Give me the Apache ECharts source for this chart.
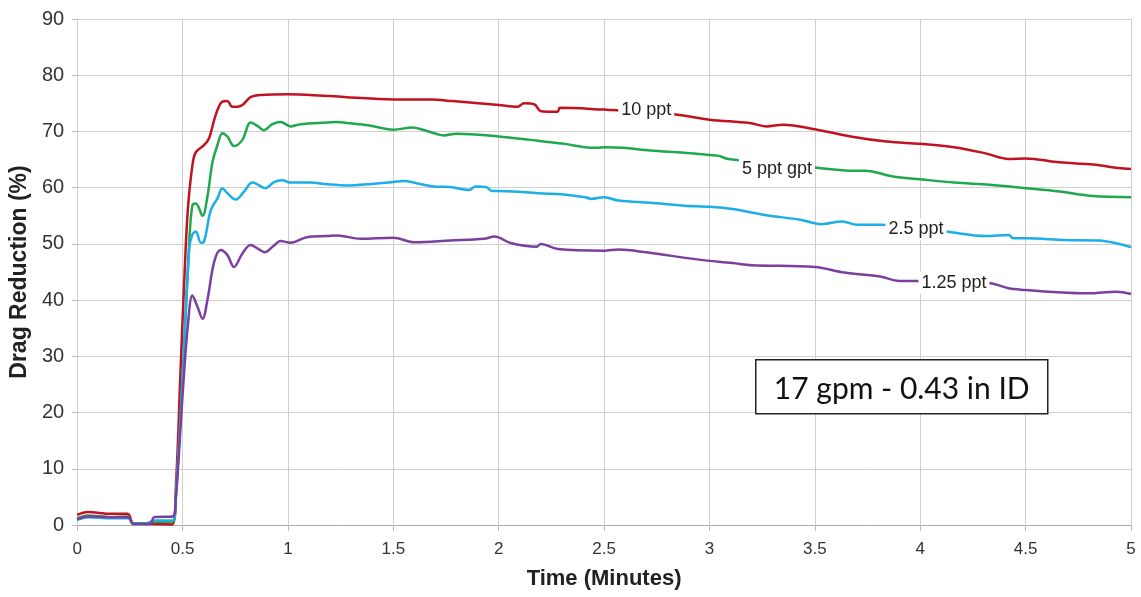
<!DOCTYPE html>
<html><head><meta charset="utf-8">
<script src="https://cdn.jsdelivr.net/npm/echarts@6/dist/echarts.min.js"></script>
<style>html,body{margin:0;padding:0;background:#fff}#c{width:1141px;height:597px}</style>
</head><body><div id="c"></div>
<script>
// Time (minutes) and drag reduction (%) per concentration
const t10 = [0,0.05,0.16,0.24,0.25,0.265,0.33,0.45,0.47,0.49,0.51,0.525,0.547,0.563,0.603,0.626,0.658,0.689,0.713,0.735,0.76,0.784,0.823,0.871,1.0,1.15,1.28,1.5,1.68,1.78,2.0,2.09,2.12,2.17,2.2,2.28,2.29,2.5,2.54,2.84,3.0,3.19,3.27,3.35,3.5,3.67,3.84,4.0,4.16,4.31,4.42,4.5,4.66,4.82,4.94,5.0];
const v10 = [1.8,2.3,2.0,2.0,1.6,0.3,0.2,0.1,8,27,45,56,64,66.3,67.6,68.8,73,75.3,75.4,74.4,74.4,74.7,76.1,76.5,76.6,76.4,76.1,75.7,75.7,75.4,74.7,74.4,75.0,74.8,73.6,73.5,74.2,73.9,73.8,73.0,72.1,71.5,70.9,71.2,70.4,69.1,68.2,67.8,67.2,66.1,65.1,65.2,64.5,64.1,63.5,63.3];

const t5 = [0,0.05,0.16,0.24,0.25,0.265,0.33,0.366,0.453,0.468,0.5,0.532,0.547,0.563,0.595,0.618,0.642,0.666,0.689,0.713,0.744,0.784,0.823,0.855,0.886,0.926,0.965,1.013,1.06,1.186,1.233,1.28,1.38,1.5,1.59,1.64,1.71,1.74,1.8,2.0,2.15,2.31,2.41,2.47,2.5,2.59,2.72,2.88,3.0,3.04,3.09,3.52,3.68,3.74,3.87,4.0,4.16,4.33,4.5,4.66,4.82,5.0];
const v5 = [1.2,1.7,1.4,1.5,1.2,0.3,0.3,0.6,0.6,5,26,50.5,56.9,57.2,55,58.4,64.5,67.6,69.7,69.1,67.4,68.5,71.6,71,70.2,71.3,71.7,70.9,71.3,71.6,71.7,71.5,71.1,70.3,70.7,70.3,69.5,69.3,69.6,69.1,68.5,67.8,67.2,67.1,67.2,67.1,66.6,66.2,65.8,65.7,65.1,63.5,63.0,63.0,62.0,61.5,60.9,60.5,59.9,59.3,58.5,58.3];

const t25 = [0,0.05,0.16,0.24,0.25,0.265,0.33,0.366,0.453,0.468,0.5,0.532,0.547,0.563,0.587,0.603,0.634,0.666,0.689,0.713,0.752,0.792,0.831,0.855,0.894,0.934,0.973,1.013,1.107,1.186,1.28,1.38,1.5,1.55,1.61,1.69,1.77,1.86,1.89,1.94,1.97,2.0,2.25,2.31,2.41,2.44,2.5,2.57,2.72,2.88,3.0,3.11,3.27,3.43,3.53,3.63,3.7,3.81,4.12,4.31,4.42,4.44,4.5,4.69,4.85,4.93,5.0];
const v25 = [0.9,1.4,1.2,1.2,1.0,0.2,0.3,0.8,0.8,5,26,49.2,51.7,52.2,50.2,50.5,56,58.1,59.9,59,57.9,59.3,60.9,60.6,59.9,61,61.3,60.9,60.9,60.6,60.4,60.6,61.0,61.2,60.8,60.2,60.1,59.6,60.2,60.1,59.4,59.4,58.9,58.8,58.3,58.0,58.3,57.7,57.3,56.8,56.6,56.2,55.1,54.3,53.5,54.0,53.4,53.4,52.2,51.4,51.6,51.0,51.0,50.7,50.6,50.1,49.4];

const t125 = [0,0.05,0.16,0.24,0.25,0.265,0.33,0.35,0.366,0.453,0.468,0.5,0.524,0.547,0.571,0.595,0.618,0.65,0.681,0.713,0.744,0.784,0.823,0.855,0.89,0.934,0.965,1.013,1.09,1.186,1.233,1.344,1.5,1.6,1.77,1.93,1.98,2.06,2.18,2.2,2.28,2.5,2.57,2.7,2.95,3.11,3.2,3.5,3.64,3.81,3.9,3.97,4.33,4.42,4.5,4.61,4.8,4.93,5.0];
const v125 = [1.0,1.5,1.4,1.4,1.2,0.2,0.2,0.3,1.4,1.5,4.6,23,35,40.8,38.8,36.7,40,46.8,48.9,48,45.9,48.3,49.8,49.2,48.5,49.7,50.5,50.2,51.2,51.4,51.5,50.9,51.1,50.3,50.6,50.9,51.3,50.1,49.5,50.0,49.1,48.8,49.0,48.5,47.2,46.6,46.2,45.9,44.9,44.2,43.4,43.4,43.0,42.1,41.8,41.5,41.2,41.5,41.1];

const seriesNames = ['10 ppt','5 ppt gpt','2.5 ppt','1.25 ppt'];
const seriesColors = ['#c1121f','#1fa84f','#1caee6','#7b3f9e'];
const labelAt = [[2.70,73.8],[3.32,63.4],[3.98,52.6],[4.16,43.1]];
const xTickLabels = ['0','0.5','1','1.5','2','2.5','3','3.5','4','4.5','5'];

const T = [t10,t5,t25,t125], V = [v10,v5,v25,v125];

const chart = echarts.init(document.getElementById('c'), null, {renderer:'canvas'});
const font = 'Liberation Sans, Arial, sans-serif';
chart.setOption({
  animation:false,
  backgroundColor:'#fff',
  grid:{left:76,right:10,top:19,bottom:72,containLabel:false},
  xAxis:{
    type:'value',min:0,max:5,interval:0.5,
    name:'Time (Minutes)',nameLocation:'middle',nameGap:43,
    nameTextStyle:{fontFamily:font,fontWeight:'bold',fontSize:22,color:'#222'},
    axisLine:{show:true,lineStyle:{color:'#aaa',width:1}},
    axisTick:{show:true,length:6,lineStyle:{color:'#bbb'}},
    axisLabel:{fontFamily:font,fontSize:17,color:'#333',margin:16,formatter:(v)=>xTickLabels[Math.round(v*2)]},
    splitLine:{show:true,lineStyle:{color:'#cfcfcf',width:1}}
  },
  yAxis:{
    type:'value',min:0,max:90,interval:10,
    name:'Drag Reduction (%)',nameLocation:'middle',nameGap:45,nameRotate:90,
    nameTextStyle:{fontFamily:font,fontWeight:'bold',fontSize:23,color:'#222'},
    axisLine:{show:true,lineStyle:{color:'#cfcfcf',width:1}},
    axisTick:{show:true,length:5,lineStyle:{color:'#bbb'}},
    axisLabel:{fontFamily:font,fontSize:20,color:'#333',margin:13},
    splitLine:{show:true,lineStyle:{color:'#cfcfcf',width:1}}
  },
  series: seriesNames.map((n,i)=>({
    name:n,type:'line',showSymbol:false,symbol:'none',smooth:0.35,
    lineStyle:{color:seriesColors[i],width:2.5},
    itemStyle:{color:seriesColors[i]},
    data:T[i].map((t,j)=>[t,V[i][j]]),
    z:2,
    markPoint:{
      z:10,
      symbol:'circle',symbolSize:1,
      itemStyle:{color:'rgba(0,0,0,0)'},
      label:{show:true,position:'inside',formatter:n,fontFamily:font,fontSize:18,color:'#222',
             backgroundColor:'#fff',padding:[2,3]},
      data:[{coord:labelAt[i]}]
    }
  })),
  graphic:[{
    type:'group',left:755,top:359,z:100,
    children:[
      {type:'rect',z:100,shape:{x:0,y:0,width:292,height:54},style:{fill:'#fff',stroke:'#222',lineWidth:1.5}},
      {type:'text',z:101,x:146,y:30,style:{text:'17 gpm - 0.43 in ID',fontFamily:'Lato, Open Sans, sans-serif',fontSize:30,fill:'#111',align:'center',verticalAlign:'middle'}}
    ]
  }]
});
</script>
</body></html>
